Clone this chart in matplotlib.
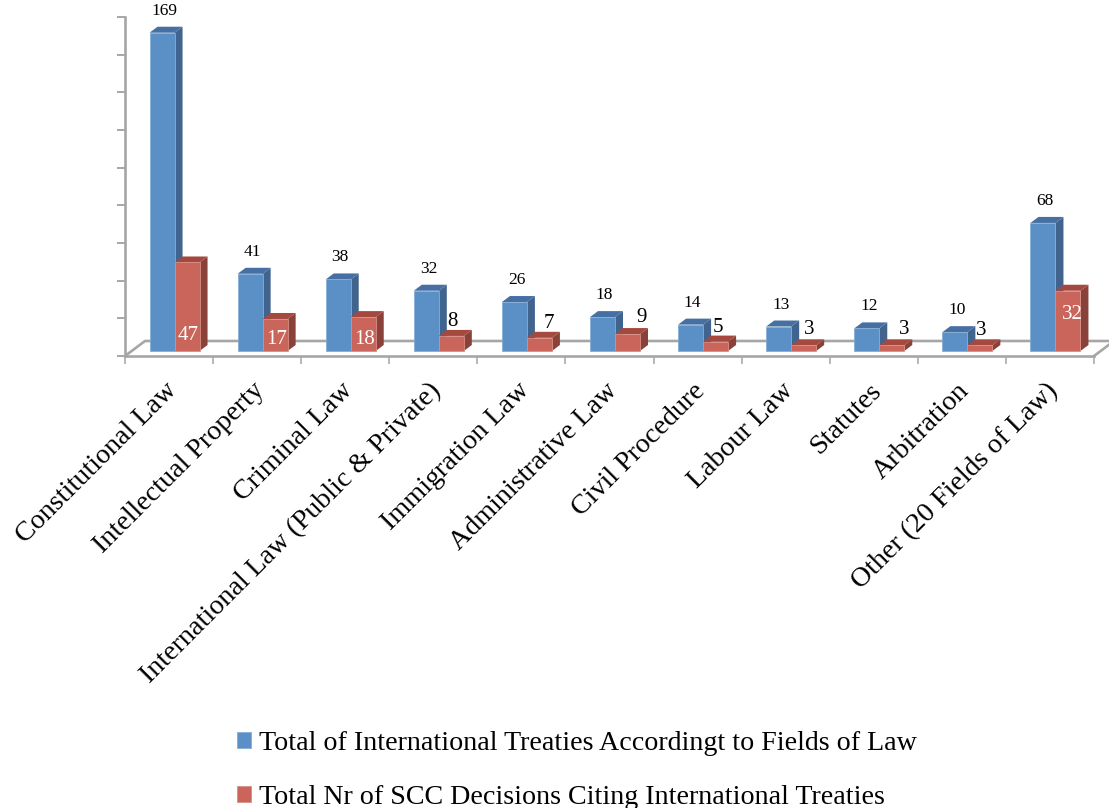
import matplotlib
matplotlib.use("Agg")
import matplotlib.pyplot as plt
from matplotlib.patches import Polygon
from matplotlib.transforms import ScaledTranslation

categories = [
    "Constitutional Law", "Intellectual Property", "Criminal Law",
    "International Law (Public & Private)", "Immigration Law", "Administrative Law",
    "Civil Procedure", "Labour Law", "Statutes", "Arbitration", "Other (20 Fields of Law)",
]
treaties = [169, 41, 38, 32, 26, 18, 14, 13, 12, 10, 68]
decisions = [47, 17, 18, 8, 7, 9, 5, 3, 3, 3, 32]
treaties_name = "Total of International Treaties Accordingt to Fields of Law"
decisions_name = "Total Nr of SCC Decisions Citing International Treaties"

# label nudges for the red series, pixels from the middle of the bar top
red_label_dx = [1, 1, 1, 1, 9, 14, 2, 6, 12, 1, 4]
red_label_dy = [-73, -21, -22, 14, 14, 17, 14, 16, 16, 15, -24]
red_label_white = [True, True, True, False, False, False, False, False, False, False, True]

W, H = 1109, 808
LEFT, RIGHT, TOP, BOTTOM = 125, 1094, 17, 356
GREY = "#a6a6a6"
SERIF = "Liberation Serif"

fig = plt.figure(figsize=(W / 100, H / 100), dpi=100)
ax = fig.add_axes([LEFT / W, 1 - BOTTOM / H, (RIGHT - LEFT) / W, (BOTTOM - TOP) / H])
ax.set_xlim(0, len(categories))
ax.set_ylim(0, 180)
ax.patch.set_visible(False)

px_x = len(categories) / (RIGHT - LEFT)
px_y = 180 / (BOTTOM - TOP)

for side in ("top", "right"):
    ax.spines[side].set_visible(False)
for side in ("left", "bottom"):
    ax.spines[side].set_color(GREY)
    ax.spines[side].set_linewidth(1.9)

ax.set_yticks(range(0, 181, 20))
ax.set_yticklabels([])
ax.tick_params(axis="y", length=6, width=1.4, color=GREY)
ax.set_xticks(range(len(categories) + 1))
ax.set_xticklabels([])
ax.tick_params(axis="x", which="major", length=6, width=1.1, color=GREY)
ax.set_xticks([i + 0.5 for i in range(len(categories))], minor=True)
ax.set_xticklabels(categories, minor=True, rotation=45, ha="right", va="top",
                   rotation_mode="anchor", fontsize=20.2, family=SERIF)
ax.tick_params(axis="x", which="minor", length=0, pad=16)
label_shift = ScaledTranslation(-5 / 100, 0, fig.dpi_scale_trans)
for lab in ax.get_xticklabels(minor=True):
    lab.set_transform(lab.get_transform() + label_shift)

# floor of the 3d box
fd_x, fd_y = 20 * px_x, 15 * px_y
ax.plot([0, fd_x, len(categories) + fd_x], [0, fd_y, fd_y], color=GREY, lw=1.9,
        clip_on=False, zorder=1, solid_capstyle="butt")
ax.plot([len(categories), len(categories) + fd_x], [0, fd_y], color=GREY, lw=1.9,
        clip_on=False, zorder=1)

# bars
bar_w = 25 * px_x
lift = 5 * px_y
shift = 5.5 * px_x
dep_x, dep_y = 8 * px_x, 6 * px_y
centers = [i + 0.5 + shift for i in range(len(categories))]
blue_x = [c - bar_w / 2 for c in centers]
red_x = [c + bar_w / 2 for c in centers]


def draw_series(xs, values, front, edge, side, top, name, z):
    bars = ax.bar(xs, values, bar_w, bottom=lift, color=front, edgecolor=edge,
                  linewidth=0.6, label=name, zorder=z + 1, clip_on=False)
    for x, v in zip(xs, values):
        x0, x1 = x - bar_w / 2, x + bar_w / 2
        y0, y1 = lift, lift + v
        ax.add_patch(Polygon([(x1, y0), (x1 + dep_x, y0 + dep_y), (x1 + dep_x, y1 + dep_y), (x1, y1)],
                             facecolor=side, edgecolor="none", zorder=z, clip_on=False))
        ax.add_patch(Polygon([(x0, y1), (x0 + dep_x, y1 + dep_y), (x1 + dep_x, y1 + dep_y), (x1, y1)],
                             facecolor=top, edgecolor="none", zorder=z, clip_on=False))
    return bars


blue = draw_series(blue_x, treaties, "#5b90c6", "#86add6", "#41648e", "#4670a4", treaties_name, 3)
red = draw_series(red_x, decisions, "#c9655a", "#d88f86", "#8a4139", "#a5493f", decisions_name, 5)

for x, v in zip(blue_x, treaties):
    ax.annotate(str(v), (x, lift + v), xytext=(1.5, 22 * 0.72), textcoords="offset points",
                ha="center", va="center", fontsize=12.5, family=SERIF, zorder=10,
                annotation_clip=False)
for x, v, dx, dy, white in zip(red_x, decisions, red_label_dx, red_label_dy, red_label_white):
    ax.annotate(str(v), (x, lift + v), xytext=(dx * 0.72, dy * 0.72), textcoords="offset points",
                ha="center", va="center", fontsize=15, family=SERIF, zorder=10,
                color="white" if white else "black", annotation_clip=False)

fig.legend(handles=[blue, red], loc="upper left", bbox_to_anchor=(215 / W, 1 - 709 / H),
           frameon=False, prop={"family": SERIF, "size": 20.2}, handlelength=0.5,
           handleheight=0.5, handletextpad=0.28, labelspacing=1.0, borderpad=0.3)

fig.savefig("out.png", dpi=100)
